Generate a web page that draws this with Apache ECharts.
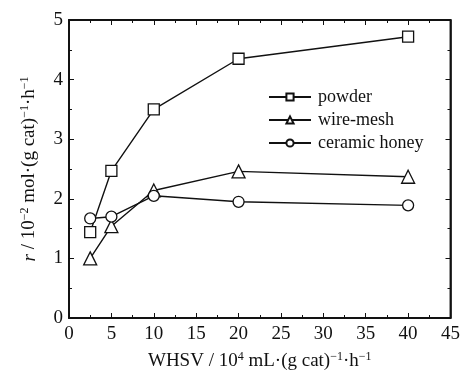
<!DOCTYPE html>
<html><head><meta charset="utf-8">
<script src="https://cdn.jsdelivr.net/npm/echarts@6/dist/echarts.min.js"></script>
<style>html,body{margin:0;padding:0;background:#fff}#c{width:463px;height:376px}</style>
</head><body><div id="c"></div>
<script>
const whsv = [2.5, 5, 10, 20, 40];
const powder = [1.44, 2.47, 3.5, 4.35, 4.72];
const wireMesh = [1.0, 1.54, 2.14, 2.46, 2.37];
const ceramicHoney = [1.67, 1.70, 2.05, 1.95, 1.89];
const seriesNames = ['powder', 'wire-mesh', 'ceramic honey'];

const FONT = 'Liberation Serif';
const C = '#111';
function pairs(ys){ return whsv.map((x,i)=>[x, ys[i]]); }
const triPath = 'path://M0,-10 L8.66,5 L-8.66,5 Z';
const mk = (name, data, symbol, size) => ({
  name, type:'line', data: pairs(data), symbol, symbolSize: size,
  lineStyle:{color:C, width:1.4}, itemStyle:{color:'#fff', borderColor:C, borderWidth:1.3}
});
const chart = echarts.init(document.getElementById('c'));
const ac = () => ({
  axisLine:{show:true, onZero:false, lineStyle:{color:C, width:1.5}},
  axisTick:{show:true, inside:true, length:5},
  minorTick:{show:true, splitNumber:2, length:3},
  splitLine:{show:false}, z:10
});
const nameRich = {
  n:{fontFamily:FONT, fontSize:19, color:C, verticalAlign:'bottom'},
  i:{fontFamily:FONT, fontSize:19, color:C, fontStyle:'italic', verticalAlign:'bottom'},
  s:{fontFamily:FONT, fontSize:12, color:C, verticalAlign:'bottom', padding:[0,0,8,0]}
};
chart.setOption({
  animation:false,
  grid:{left:69, right:10, top:20, bottom:56, show:true, borderColor:C, borderWidth:1.5},
  legend:{
    orient:'vertical', left:263, top:83, itemGap:5, itemWidth:42, itemHeight:9,
    data: seriesNames,
    textStyle:{fontFamily:FONT, fontSize:18, color:C, padding:[0,0,0,2]}
  },
  xAxis:[
    Object.assign({type:'value', min:0, max:45, interval:5, position:'bottom',
      axisLabel:{fontFamily:FONT, fontSize:19, color:C, margin:7},
      name:'{n|WHSV / 10}{s|4}{n| mL·(g cat)}{s|−1}{n|·h}{s|−1}',
      nameLocation:'middle', nameGap:33,
      nameTextStyle:{fontFamily:FONT, fontSize:19, color:C, rich:nameRich}
    }, ac()),
    Object.assign({type:'value', min:0, max:45, interval:5, position:'top',
      axisLabel:{show:false}}, ac())
  ],
  yAxis:[
    Object.assign({type:'value', min:0, max:5, interval:1, position:'left',
      axisLabel:{fontFamily:FONT, fontSize:19, color:C, margin:6},
      name:'{i|r}{n| / 10}{s|−2}{n| mol·(g cat)}{s|−1}{n|·h}{s|−1}',
      nameLocation:'middle', nameGap:30, nameRotate:90,
      nameTextStyle:{fontFamily:FONT, fontSize:19, color:C, rich:nameRich}
    }, ac()),
    Object.assign({type:'value', min:0, max:5, interval:1, position:'right',
      axisLabel:{show:false}}, ac())
  ],
  series:[
    mk('powder', powder, 'rect', 11),
    mk('wire-mesh', wireMesh, triPath, 13),
    mk('ceramic honey', ceramicHoney, 'circle', 11)
  ]
});
const p0 = chart.convertToPixel({xAxisIndex:0, yAxisIndex:0}, [0, 5]);
const p1 = chart.convertToPixel({xAxisIndex:0, yAxisIndex:0}, [45, 0]);
chart.setOption({
  graphic:[{type:'rect', z:100, silent:true,
    shape:{x:p0[0], y:p0[1], width:p1[0]-p0[0], height:p1[1]-p0[1]},
    style:{fill:'none', stroke:C, lineWidth:1.5}}]
});
</script></body></html>
